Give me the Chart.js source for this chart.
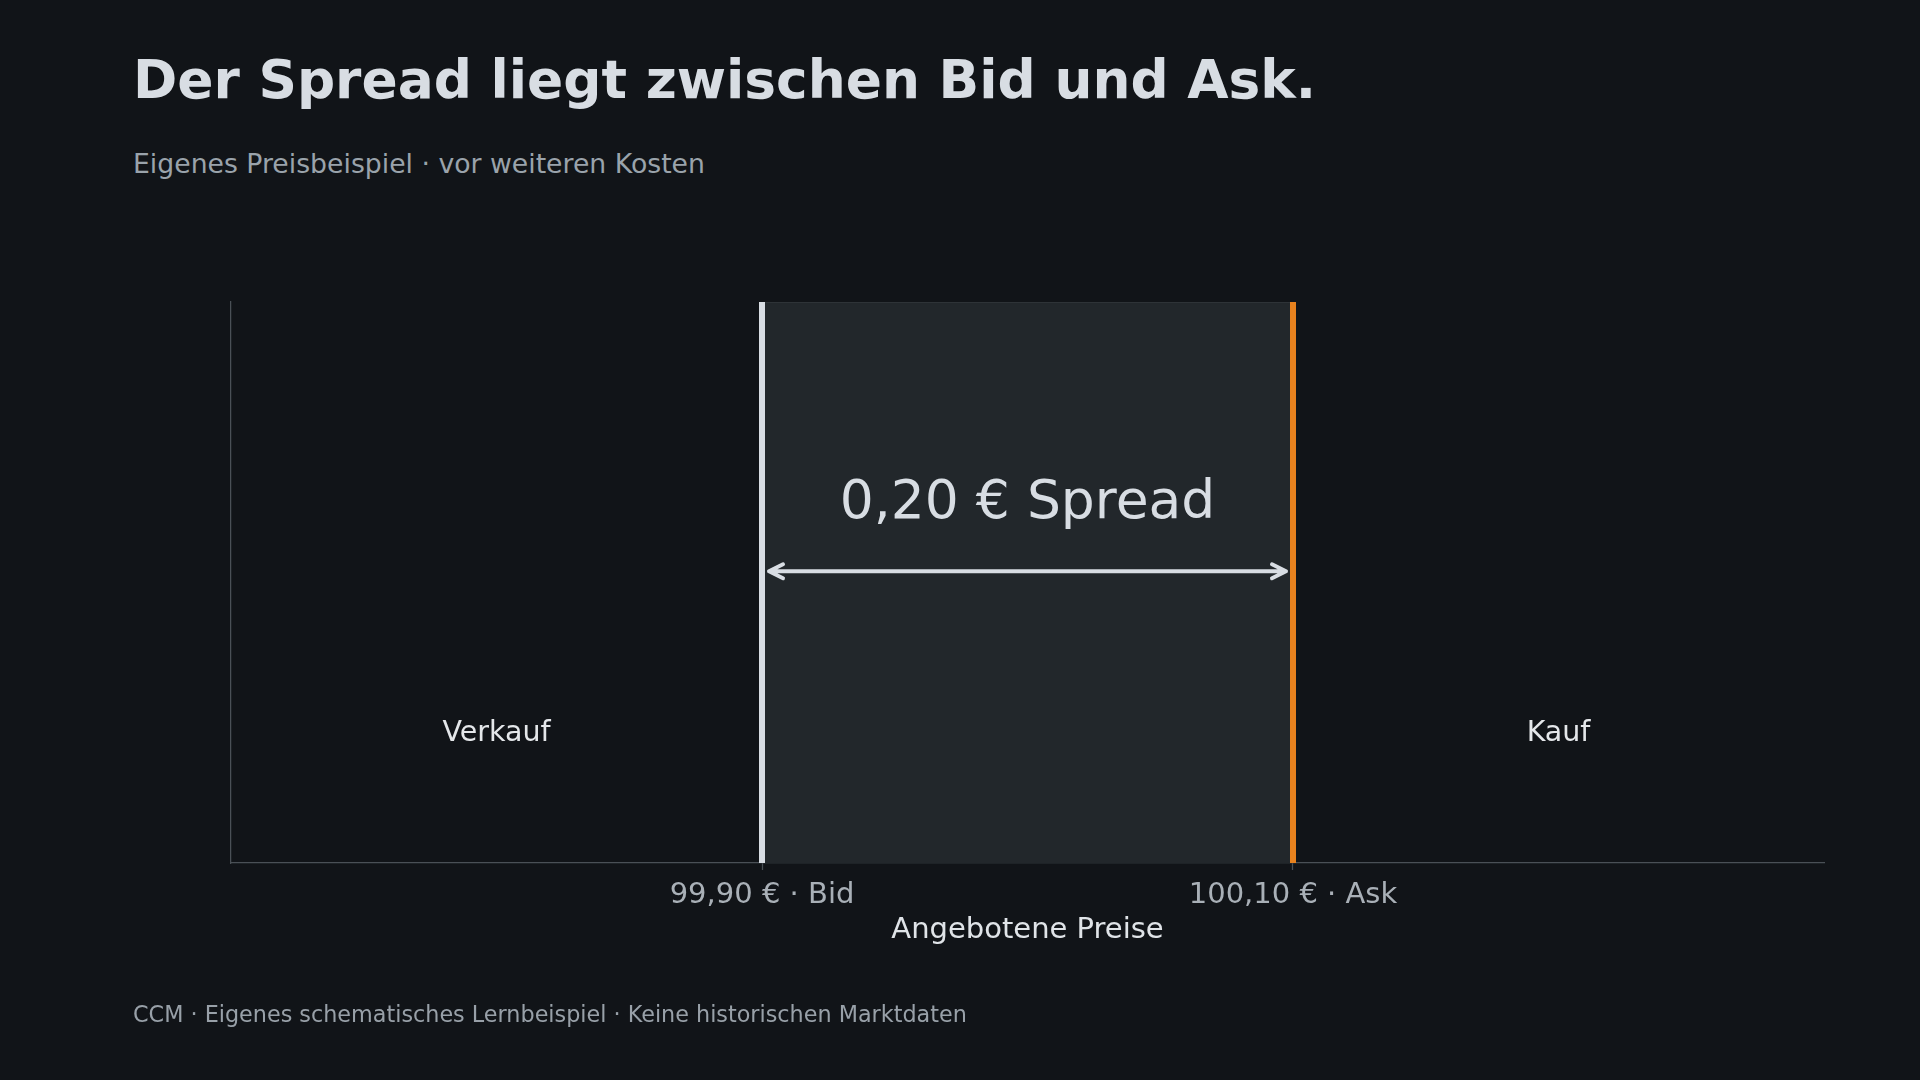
<!DOCTYPE html>
<html lang="de">
<head>
<meta charset="utf-8">
<title>Spread zwischen Bid und Ask</title>
<script src="https://cdn.jsdelivr.net/npm/chart.js@4.4.1/dist/chart.umd.min.js"></script>
<style>
	html, body { margin: 0; padding: 0; background: #111418; }
	body { width: 1920px; height: 1080px; position: relative; overflow: hidden; font-family: "DejaVu Sans", sans-serif; }
	.txt { position: absolute; left: 133px; line-height: 1; white-space: nowrap; }
	#title { top: 53px; font-size: 53.4px; font-weight: bold; color: #d8dde3; }
	#subtitle { top: 150.5px; font-size: 26.7px; color: #9aa3ab; }
	#footer { top: 1003px; font-size: 22.3px; color: #98a0a8; }
	#myChart { position: absolute; left: 0; top: 0; }
</style>
</head>
<body>
<div class="txt" id="title">Der Spread liegt zwischen Bid und Ask.</div>
<div class="txt" id="subtitle">Eigenes Preisbeispiel · vor weiteren Kosten</div>
<canvas id="myChart" width="1920" height="1080"></canvas>
<div class="txt" id="footer">CCM · Eigenes schematisches Lernbeispiel · Keine historischen Marktdaten</div>

<script>
// prices
const bidPrice = 99.90;
const askPrice = 100.10;
const xMin = 99.70;
const xMax = 100.30;

// x ticks
const tickValues = [99.90, 100.10];
const tickLabels = ['99,90 € · Bid', '100,10 € · Ask'];

// text in the plot (x = price, y = share of height)
const sideLabels = ['Verkauf', 'Kauf'];
const sideX = [99.80, 100.20];
const sideY = [0.218, 0.218];
const arrowY = 0.52;
const spreadLabelY = 0.615;

const spread = askPrice - bidPrice;
const spreadText = spread.toFixed(2).replace('.', ',') + ' € Spread';

const axisGray = '#4a5056';

// arrow between bid and ask, drawn from the dataset's own points
const arrowPlugin = {
	id: 'arrowPlugin',
	afterDatasetsDraw(chart){
		const ctx = chart.ctx;
		chart.data.datasets.forEach((ds, i) => {
			if(!ds.isArrow) return;
			const pts = chart.getDatasetMeta(i).data;
			const shrink = 7;
			const x1 = pts[0].x + shrink;
			const x2 = pts[pts.length - 1].x - shrink;
			const y = pts[0].y;
			const head = 14, half = 7;
			ctx.save();
			ctx.strokeStyle = ds.arrowColor;
			ctx.lineWidth = 4;
			ctx.lineCap = 'round';
			ctx.lineJoin = 'round';
			ctx.beginPath();
			ctx.moveTo(x1, y);
			ctx.lineTo(x2, y);
			ctx.moveTo(x1 + head, y - half);
			ctx.lineTo(x1, y);
			ctx.lineTo(x1 + head, y + half);
			ctx.moveTo(x2 - head, y - half);
			ctx.lineTo(x2, y);
			ctx.lineTo(x2 - head, y + half);
			ctx.stroke();
			ctx.restore();
		});
	}
};

const labelPlugin = {
	id: 'labelPlugin',
	afterDatasetsDraw(chart){
		const ctx = chart.ctx;
		const xs = chart.scales.x, ys = chart.scales.y;
		ctx.save();
		ctx.textAlign = 'center';
		ctx.textBaseline = 'alphabetic';
		ctx.fillStyle = '#d8dde3';
		ctx.font = '53.5px "DejaVu Sans"';
		ctx.fillText(spreadText, xs.getPixelForValue((bidPrice + askPrice) / 2), ys.getPixelForValue(spreadLabelY));
		ctx.fillStyle = '#e4e7ea';
		ctx.font = '28.5px "DejaVu Sans"';
		for(let i = 0; i < sideLabels.length; i++){
			ctx.fillText(sideLabels[i], xs.getPixelForValue(sideX[i]), ys.getPixelForValue(sideY[i]));
		}
		ctx.restore();
	}
};

const ctx = document.getElementById('myChart').getContext('2d');

const myChart = new Chart(ctx, {
	type: 'scatter',
	data: {
		datasets: [
			{
				label: 'Bid',
				data: [{x: bidPrice, y: 0}, {x: bidPrice, y: 1}],
				showLine: true,
				borderColor: '#d8dde3',
				borderWidth: 6,
				pointRadius: 0,
				order: 1
			},
			{
				label: 'Ask',
				data: [{x: askPrice, y: 0}, {x: askPrice, y: 1}],
				showLine: true,
				borderColor: '#e8821e',
				borderWidth: 6,
				pointRadius: 0,
				order: 1
			},
			{
				label: 'Spread',
				data: [{x: bidPrice, y: arrowY}, {x: askPrice, y: arrowY}],
				showLine: false,
				pointRadius: 0,
				isArrow: true,
				arrowColor: '#d8dde3',
				order: 2
			},
			{
				label: 'Zone',
				data: [{x: bidPrice, y: 1}, {x: askPrice, y: 1}],
				showLine: true,
				fill: 'origin',
				backgroundColor: '#22272b',
				borderColor: '#33383d',
				borderWidth: 1.5,
				pointRadius: 0,
				order: 3
			}
		]
	},
	options: {
		responsive: false,
		animation: false,
		devicePixelRatio: 1,
		layout: {
			padding: {left: 231, right: 96, top: 302, bottom: 127}
		},
		plugins: {
			legend: {display: false},
			tooltip: {enabled: false}
		},
		scales: {
			x: {
				type: 'linear',
				min: xMin,
				max: xMax,
				afterBuildTicks: (s) => { s.ticks = tickValues.map(v => ({value: v})); },
				afterFit: (s) => { s.height = 90; },
				ticks: {
					callback: (v, i) => tickLabels[i],
					color: '#a9b0b7',
					font: {family: '"DejaVu Sans"', size: 29},
					padding: 8,
					maxRotation: 0,
					autoSkip: false
				},
				grid: {
					display: true,
					drawOnChartArea: false,
					drawTicks: true,
					tickLength: 7,
					tickWidth: 1.25,
					tickColor: axisGray
				},
				border: {display: true, color: axisGray, width: 1.25},
				title: {
					display: true,
					text: 'Angebotene Preise',
					color: '#e0e4e8',
					font: {family: '"DejaVu Sans"', size: 29},
					padding: {top: 0, bottom: 5}
				}
			},
			y: {
				min: 0,
				max: 1,
				afterFit: (s) => { s.width = 0; },
				ticks: {display: false},
				grid: {display: false},
				border: {display: true, color: axisGray, width: 1.25}
			}
		}
	},
	plugins: [arrowPlugin, labelPlugin]
});
</script>
</body>
</html>
